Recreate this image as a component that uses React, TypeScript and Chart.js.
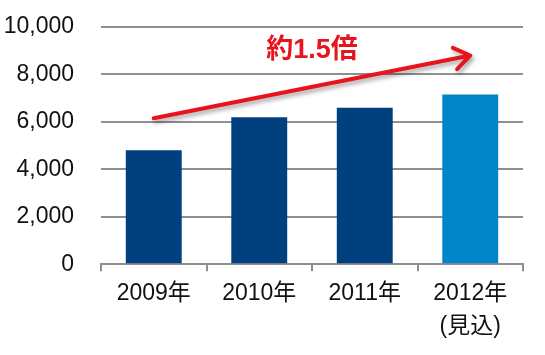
import React, { useEffect, useRef } from "react";
import { Chart, registerables } from "chart.js";

Chart.register(...registerables);

const categories: (string | string[])[] = ["2009年", "2010年", "2011年", ["2012年", "(見込)"]];
const values = [4800, 6200, 6600, 7150];
const barColors = ["#00407f", "#00407f", "#00407f", "#0086c8"];
const yTicks = [0, 2000, 4000, 6000, 8000, 10000];
const arrowFrom = [0, 6150];
const arrowTo = [3, 8800];
const annotationText = "約1.5倍";
const annotationAt = [1.5, 9000];

const FONT = "'Liberation Sans', Arial, 'Noto Sans CJK JP', sans-serif";

const arrowPlugin = {
  id: "arrowPlugin",
  afterDatasetsDraw(chart: any) {
    const { ctx, scales } = chart;
    const x = scales.x;
    const y = scales.y;
    const x1 = x.getPixelForValue(arrowFrom[0]);
    const y1 = y.getPixelForValue(arrowFrom[1]);
    const x2 = x.getPixelForValue(arrowTo[0]);
    const y2 = y.getPixelForValue(arrowTo[1]);
    const ang = Math.atan2(y2 - y1, x2 - x1);
    const wing = 19;
    const spread = (35 * Math.PI) / 180;
    ctx.save();
    ctx.shadowColor = "rgba(0,0,0,0.35)";
    ctx.shadowBlur = 4;
    ctx.shadowOffsetX = 2;
    ctx.shadowOffsetY = 3;
    ctx.strokeStyle = "#e8141c";
    ctx.lineWidth = 4;
    ctx.lineCap = "round";
    ctx.lineJoin = "round";
    ctx.beginPath();
    ctx.moveTo(x1, y1);
    ctx.lineTo(x2, y2);
    ctx.moveTo(x2 - wing * Math.cos(ang - spread), y2 - wing * Math.sin(ang - spread));
    ctx.lineTo(x2, y2);
    ctx.lineTo(x2 - wing * Math.cos(ang + spread), y2 - wing * Math.sin(ang + spread));
    ctx.stroke();
    ctx.restore();

    ctx.save();
    ctx.fillStyle = "#e8141c";
    ctx.font = `bold 27px ${FONT}`;
    ctx.textAlign = "center";
    ctx.textBaseline = "middle";
    ctx.fillText(annotationText, x.getPixelForValue(annotationAt[0]), y.getPixelForValue(annotationAt[1]));
    ctx.restore();
  },
};

export default function App() {
  const canvasRef = useRef<HTMLCanvasElement | null>(null);

  useEffect(() => {
    document.body.style.margin = "0";
    const canvas = canvasRef.current;
    if (!canvas) return;
    const chart = new Chart(canvas, {
      type: "bar",
      data: {
        labels: categories,
        datasets: [
          {
            data: values,
            backgroundColor: barColors,
            borderWidth: 0,
            barPercentage: 0.53,
            categoryPercentage: 1,
          },
        ],
      },
      options: {
        animation: false,
        responsive: false,
        maintainAspectRatio: false,
        layout: { padding: { left: 4, right: 22, top: 27, bottom: 6 } },
        plugins: { legend: { display: false }, tooltip: { enabled: false } },
        scales: {
          x: {
            offset: true,
            grid: {
              display: true,
              drawOnChartArea: false,
              drawTicks: true,
              tickLength: 7,
              color: "#8f8f8f",
              lineWidth: 2,
              offset: true,
            },
            border: { display: true, color: "#8f8f8f", width: 2 },
            ticks: {
              color: "#111",
              padding: 6,
              maxRotation: 0,
              autoSkip: false,
              font: { family: FONT, size: 23, lineHeight: 1.43 },
            },
          },
          y: {
            min: 0,
            max: 10000,
            afterBuildTicks: (scale: any) => {
              scale.ticks = yTicks.map((v) => ({ value: v }));
            },
            afterFit: (scale: any) => {
              scale.width = 97;
              scale.paddingTop = 0;
              scale.paddingBottom = 0;
            },
            grid: { color: "#8f8f8f", lineWidth: 2, drawTicks: false },
            border: { display: false },
            ticks: {
              color: "#111",
              padding: 27,
              font: { family: FONT, size: 23 },
              callback: (v: any) => Number(v).toLocaleString("en-US"),
            },
          },
        },
      },
      plugins: [arrowPlugin],
    });
    return () => chart.destroy();
  }, []);

  return (
    <div style={{ position: "absolute", left: 0, top: 0, width: 545, height: 355, background: "#fff" }}>
      <canvas ref={canvasRef} width={545} height={355} style={{ width: 545, height: 355 }} />
    </div>
  );
}
